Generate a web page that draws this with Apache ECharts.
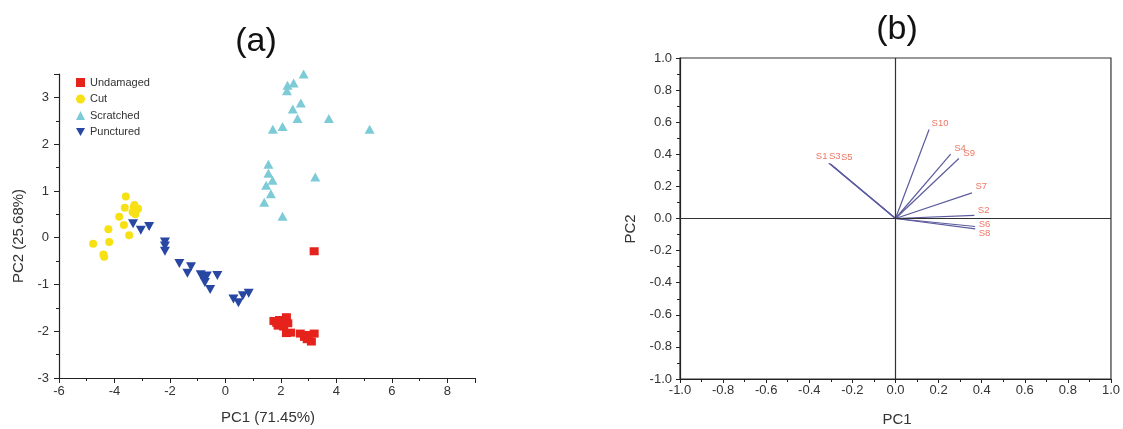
<!DOCTYPE html>
<html>
<head>
<meta charset="utf-8">
<script src="https://cdn.jsdelivr.net/npm/echarts@6/dist/echarts.min.js"></script>
<style>
html,body{margin:0;padding:0;background:#fff;}
#chart{width:1123px;height:429px;}
</style>
</head>
<body>
<div id="chart"></div>
<script>
// ---------- Panel (a): PCA scores ----------
const undamaged = [[3.2,-0.29],[1.75,-1.78],[1.85,-1.82],[1.95,-1.76],[2.05,-1.8],[2.2,-1.7],[2.25,-1.83],[1.9,-1.88],[2.1,-1.9],[2.0,-1.85],[2.2,-2.04],[2.35,-2.03],[2.7,-2.05],[2.85,-2.12],[2.95,-2.17],[3.1,-2.22],[3.2,-2.05],[3.0,-2.08]];
const cut = [[-3.59,0.88],[-3.63,0.64],[-3.83,0.45],[-3.66,0.27],[-3.47,0.05],[-4.22,0.18],[-4.19,-0.09],[-4.77,-0.13],[-4.37,-0.41],[-4.4,-0.36],[-3.3,0.65],[-3.2,0.6],[-3.25,0.5],[-3.35,0.55],[-3.15,0.62],[-3.28,0.7]];
const scratched = [[2.82,3.5],[2.24,3.26],[2.46,3.31],[2.22,3.14],[2.72,2.88],[2.43,2.75],[2.6,2.55],[3.73,2.55],[5.2,2.32],[1.71,2.32],[2.06,2.38],[1.55,1.57],[1.55,1.38],[1.7,1.23],[1.47,1.12],[1.64,0.94],[1.4,0.76],[2.06,0.46],[3.24,1.3]];
const punctured = [[-3.33,0.3],[-3.05,0.16],[-2.75,0.24],[-2.18,-0.09],[-2.18,-0.18],[-2.18,-0.29],[-1.66,-0.55],[-1.37,-0.76],[-1.24,-0.62],[-0.89,-0.79],[-0.8,-0.86],[-0.74,-0.96],[-0.55,-1.11],[-0.67,-0.82],[-0.29,-0.81],[0.29,-1.31],[0.47,-1.39],[0.63,-1.24],[0.84,-1.19]];

// ---------- Panel (b): loadings ----------
const loadNames = ['S1','S3','S5','S10','S4','S9','S7','S2','S6','S8'];
const loadX = [-0.31,-0.305,-0.30,0.156,0.256,0.294,0.355,0.366,0.37,0.37];
const loadY = [0.345,0.342,0.339,0.555,0.401,0.374,0.160,0.019,-0.05,-0.065];
const labelOffsets = [[-7,-7],[5,-7],[16,-7],[2,-6],[3,-6],[4,-5],[3,-6],[3,-5],[3,-2],[3,4]];

const axisCol = '#222';
const labCol = '#333';
const FONT = 'Liberation Sans, Arial, sans-serif';

const invTri = 'path://M0,0 L10,0 L5,9 Z';

const loadSeries = loadNames.map((n,i)=>({
  name: n, type:'line', xAxisIndex:1, yAxisIndex:1,
  data:[[0,0],[loadX[i],loadY[i]]], symbol:'none', silent:true,
  lineStyle:{color:'#5b5b9e', width:1.2}
}));

const option = {
  animation:false,
  backgroundColor:'#fff',
  textStyle:{fontFamily:FONT},
  grid:[
    {left:59, top:74, width:416, height:304},
    {left:680, top:58, width:435.5, height:321, show:true, borderColor:'#333', borderWidth:1.2, backgroundColor:'transparent'}
  ],
  legend:{
    orient:'vertical', left:76, top:77, padding:0,
    itemWidth:9, itemHeight:9, itemGap:5.5,
    textStyle:{fontSize:11, color:labCol, fontFamily:FONT},
    data:['Undamaged','Cut','Scratched','Punctured']
  },
  xAxis:[
    {gridIndex:0, type:'value', min:-6, max:9, interval:2,
     axisLine:{onZero:false, lineStyle:{color:axisCol, width:1.2}}, splitLine:{show:false},
     axisTick:{length:5, lineStyle:{color:axisCol}}, minorTick:{show:true, splitNumber:2, length:3, lineStyle:{color:axisCol}},
     axisLabel:{color:labCol, fontSize:13, margin:7, showMaxLabel:false}},
    {gridIndex:1, type:'value', min:-1, max:1, interval:0.2,
     axisLine:{onZero:false, lineStyle:{color:axisCol, width:1.2}}, splitLine:{show:false},
     axisTick:{length:4, lineStyle:{color:axisCol}}, minorTick:{show:true, splitNumber:2, length:3, lineStyle:{color:axisCol}},
     axisLabel:{color:labCol, fontSize:13, margin:5, formatter:v=>v.toFixed(1)}}
  ],
  yAxis:[
    {gridIndex:0, type:'value', min:-3, max:3.5, interval:1,
     axisLine:{onZero:false, lineStyle:{color:axisCol, width:1.2}}, splitLine:{show:false},
     axisTick:{length:5, lineStyle:{color:axisCol}}, minorTick:{show:true, splitNumber:2, length:3, lineStyle:{color:axisCol}},
     axisLabel:{color:labCol, fontSize:13, margin:10, showMaxLabel:false}},
    {gridIndex:1, type:'value', min:-1, max:1, interval:0.2,
     axisLine:{onZero:false, lineStyle:{color:axisCol, width:1.2}}, splitLine:{show:false},
     axisTick:{length:4, lineStyle:{color:axisCol}}, minorTick:{show:true, splitNumber:2, length:3, lineStyle:{color:axisCol}},
     axisLabel:{color:labCol, fontSize:13, margin:8, formatter:v=>v.toFixed(1)}}
  ],
  series:[
    {name:'Undamaged', type:'scatter', xAxisIndex:0, yAxisIndex:0, data:undamaged, symbol:'rect', symbolSize:[9,8], itemStyle:{color:'#e5221b', opacity:1}},
    {name:'Cut', type:'scatter', xAxisIndex:0, yAxisIndex:0, data:cut, symbol:'circle', symbolSize:8, itemStyle:{color:'#f7e114', opacity:1}},
    {name:'Scratched', type:'scatter', xAxisIndex:0, yAxisIndex:0, data:scratched, symbol:'triangle', symbolSize:[10,9], itemStyle:{color:'#7ecbd8', opacity:1}, clip:false},
    {name:'Punctured', type:'scatter', xAxisIndex:0, yAxisIndex:0, data:punctured, symbol:invTri, symbolSize:[10,9], itemStyle:{color:'#2747a3', opacity:1}},
    {name:'axes0', type:'line', xAxisIndex:1, yAxisIndex:1, data:[], silent:true,
     markLine:{silent:true, symbol:['none','none'], label:{show:false}, animation:false,
       lineStyle:{color:'#333', type:'solid', width:1.2},
       data:[{xAxis:0},{yAxis:0}]}},
    ...loadSeries,
    {name:'loadLabels', type:'scatter', xAxisIndex:1, yAxisIndex:1, symbolSize:1, silent:true,
     itemStyle:{color:'rgba(0,0,0,0)'},
     data: loadNames.map((n,i)=>({value:[loadX[i],loadY[i]], name:n,
       label:{show:true, position:(i<3?'inside':'right'), distance:0, offset:labelOffsets[i], formatter:n,
              color:'#e8543c', fontSize:9.5, fontFamily:FONT}}))}
  ],
  graphic:[
    {type:'text', x:256, y:42, style:{text:'(a)', font:'34px '+FONT, fill:'#111', textAlign:'center', textVerticalAlign:'middle'}},
    {type:'text', x:897, y:30, style:{text:'(b)', font:'34px '+FONT, fill:'#111', textAlign:'center', textVerticalAlign:'middle'}},
    {type:'text', x:268, y:418, style:{text:'PC1 (71.45%)', font:'15px '+FONT, fill:'#333', textAlign:'center', textVerticalAlign:'middle'}},
    {type:'text', x:19, y:236, rotation:Math.PI/2, style:{text:'PC2 (25.68%)', font:'15px '+FONT, fill:'#333', textAlign:'center', textVerticalAlign:'middle'}},
    {type:'text', x:897, y:420, style:{text:'PC1', font:'15px '+FONT, fill:'#333', textAlign:'center', textVerticalAlign:'middle'}},
    {type:'text', x:631, y:229, rotation:Math.PI/2, style:{text:'PC2', font:'15px '+FONT, fill:'#333', textAlign:'center', textVerticalAlign:'middle'}}
  ]
};
const chart = echarts.init(document.getElementById('chart'), null, {renderer:'canvas'});
chart.setOption(option);
</script>
</body>
</html>
